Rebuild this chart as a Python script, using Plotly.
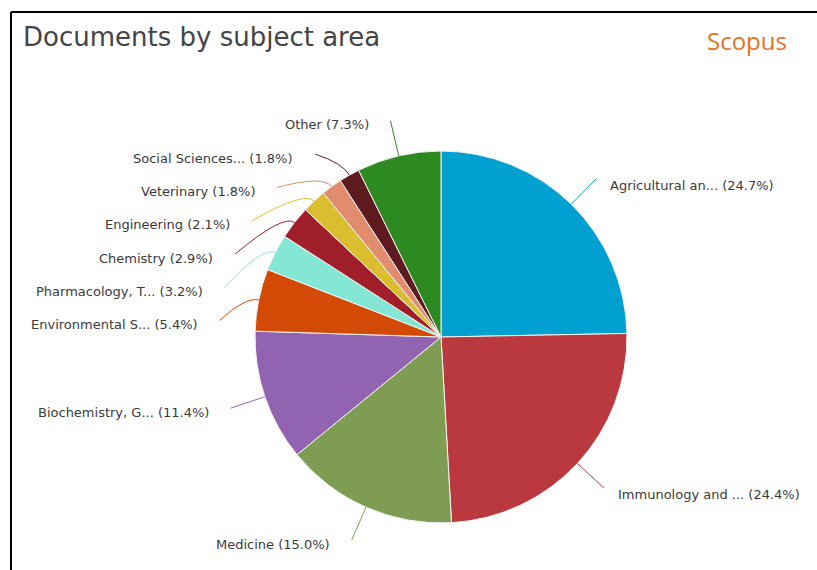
import math
import plotly.graph_objects as go

labels = ["Agricultural an...", "Immunology and ...", "Medicine", "Biochemistry, G...",
          "Environmental S...", "Pharmacology, T...", "Chemistry", "Engineering",
          "Veterinary", "Social Sciences...", "Other"]
values = [24.7, 24.4, 15.0, 11.4, 5.4, 3.2, 2.9, 2.1, 1.8, 1.8, 7.3]
colors = ["#00a0d0", "#b9393f", "#7e9d53", "#9263b0", "#d24a06", "#84e6d4",
          "#a11f2b", "#dbbe30", "#e28c6f", "#5d1b1f", "#2d8a20"]

W, H = 817, 570
CX, CY, R = 441, 337, 186
RL = 222          # connector end radius
SPACING = 33.3    # min vertical spacing of labels

fig = go.Figure()
fig.add_trace(go.Pie(
    labels=labels, values=values, sort=False, direction="clockwise", rotation=0,
    marker=dict(colors=colors, line=dict(color="#f4f4f4", width=1)),
    textinfo="none", hoverinfo="label+percent", showlegend=False,
    domain=dict(x=[(CX - R) / W, (CX + R) / W], y=[1 - (CY + R) / H, 1 - (CY - R) / H]),
))

total = sum(values)
cum = 0
items = []
for lab, v, c in zip(labels, values, colors):
    mid = (cum + v / 2) / total * 2 * math.pi
    cum += v
    s, co = math.sin(mid), math.cos(mid)
    items.append(dict(lab=lab, v=v, c=c, s=s, co=co,
                      ex=CX + R * s, ey=CY - R * co,
                      y=CY - RL * co, side=1 if s >= 0 else -1))

# simple downward stacking per side
for side in (1, -1):
    grp = sorted([it for it in items if it["side"] == side], key=lambda d: d["y"])
    for i in range(1, len(grp)):
        if grp[i]["y"] < grp[i - 1]["y"] + SPACING:
            grp[i]["y"] = grp[i - 1]["y"] + SPACING

shapes = []
annotations = []
for it in items:
    dy = it["y"] - CY
    nat_y = CY - RL * it["co"]
    if abs(it["y"] - nat_y) < 0.5:
        lx = CX + RL * it["s"]
    else:
        lx = CX + it["side"] * math.sqrt(max(RL ** 2 - dy ** 2, 0))
    ly = it["y"]
    qx = CX + (R + 14) * it["s"]
    qy = CY - (R + 14) * it["co"]
    shapes.append(dict(type="path", xref="x", yref="y",
                       path=f"M {it['ex']:.1f},{it['ey']:.1f} Q {qx:.1f},{qy:.1f} {lx:.1f},{ly:.1f}",
                       line=dict(color=it["c"], width=1)))
    txt = f"{it['lab']} ({it['v']:.1f}%)"
    if it["side"] == 1:
        annotations.append(dict(x=lx + 12, y=ly + 7, xref="x", yref="y", text=txt,
                                showarrow=False, xanchor="left", yanchor="middle",
                                font=dict(family="DejaVu Sans", size=13, color="#3a3a3a")))
    else:
        annotations.append(dict(x=lx - 20, y=ly + 4, xref="x", yref="y", text=txt,
                                showarrow=False, xanchor="right", yanchor="middle",
                                font=dict(family="DejaVu Sans", size=13, color="#3a3a3a")))

# frame lines
shapes.append(dict(type="line", xref="x", yref="y", x0=11, y0=12, x1=W, y1=12,
                   line=dict(color="#000", width=2)))
shapes.append(dict(type="line", xref="x", yref="y", x0=11, y0=12, x1=11, y1=H,
                   line=dict(color="#000", width=2)))

annotations.append(dict(x=21, y=37, xref="x", yref="y", text="Documents by subject area",
                        showarrow=False, xanchor="left", yanchor="middle",
                        font=dict(family="DejaVu Sans", size=26, color="#444")))
annotations.append(dict(x=789, y=40, xref="x", yref="y", text="Scopus",
                        showarrow=False, xanchor="right", yanchor="middle",
                        font=dict(family="Open Sans", size=24, color="#e8721d")))

fig.update_layout(
    width=W, height=H, margin=dict(l=0, r=0, t=0, b=0),
    paper_bgcolor="white", plot_bgcolor="rgba(0,0,0,0)",
    xaxis=dict(range=[0, W], visible=False, fixedrange=True, domain=[0, 1]),
    yaxis=dict(range=[H, 0], visible=False, fixedrange=True, domain=[0, 1]),
    shapes=shapes, annotations=annotations,
)
fig.write_html("out.html", config={"displayModeBar": False},
               post_script="document.body.style.margin='0';document.body.style.padding='0';")
